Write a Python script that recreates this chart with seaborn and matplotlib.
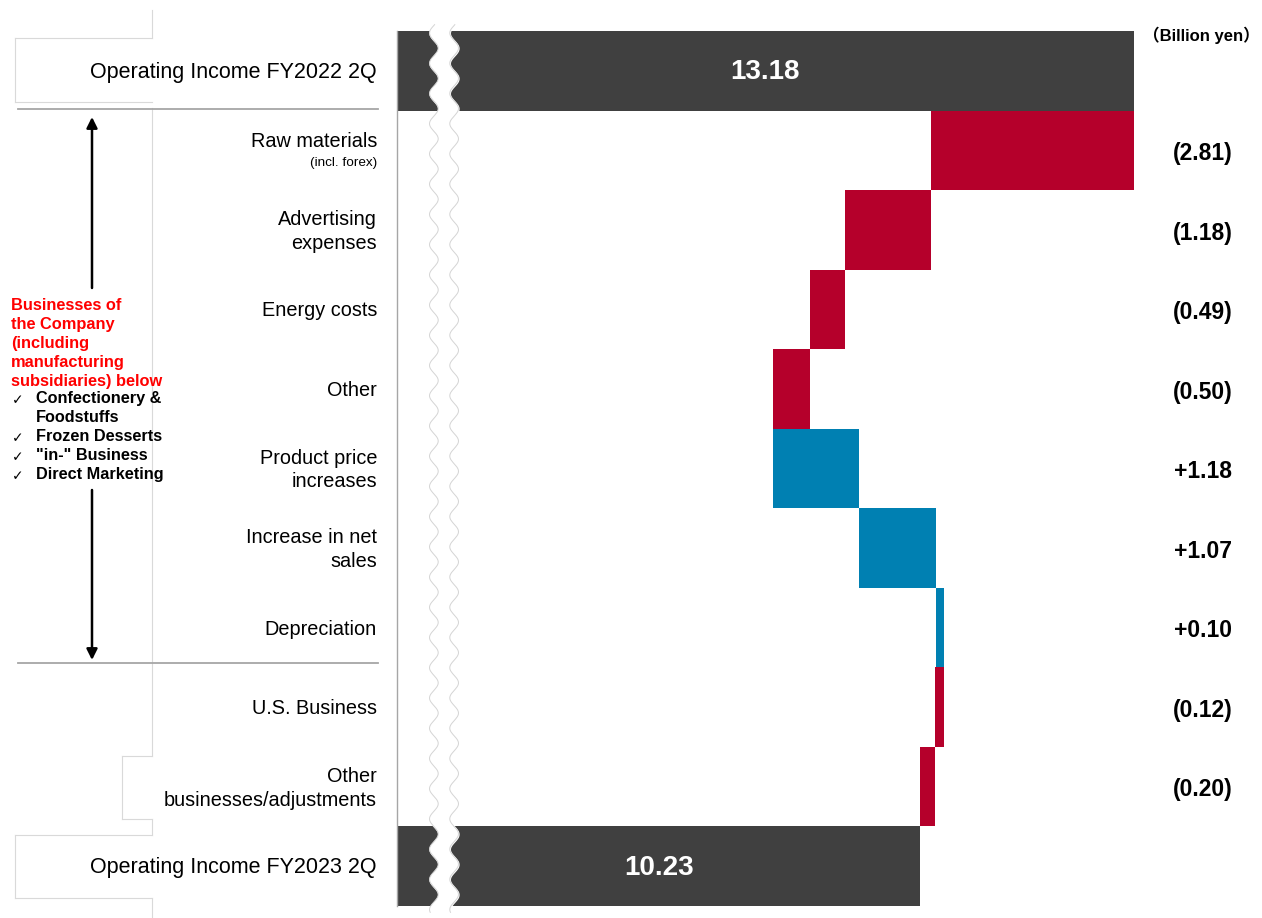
import numpy as np
import pandas as pd
import matplotlib
matplotlib.use("Agg")
import matplotlib.pyplot as plt
from matplotlib.lines import Line2D
import seaborn as sns

# Data (billion yen)
categories = [
    "Operating Income FY2022 2Q", "Raw materials", "Advertising expenses",
    "Energy costs", "Other", "Product price increases", "Increase in net sales",
    "Depreciation", "U.S. Business", "Other businesses/adjustments",
    "Operating Income FY2023 2Q",
]
row_labels = [
    "Operating Income FY2022 2Q", "Raw materials", "Advertising\nexpenses",
    "Energy costs", "Other", "Product price\nincreases", "Increase in net\nsales",
    "Depreciation", "U.S. Business", "Other\nbusinesses/adjustments",
    "Operating Income FY2023 2Q",
]
start_total = 13.18
end_total = 10.23
changes = [-2.81, -1.18, -0.49, -0.50, 1.18, 1.07, 0.10, -0.12, -0.20]
change_labels = ["(2.81)", "(1.18)", "(0.49)", "(0.50)", "+1.18", "+1.07", "+0.10", "(0.12)", "(0.20)"]
group_title = "Businesses of\nthe Company\n(including\nmanufacturing\nsubsidiaries) below"
group_items = ["Confectionery &\nFoodstuffs", "Frozen Desserts", "\"in-\" Business", "Direct Marketing"]

DARK = "#404040"
RED = "#B5002B"
BLUE = "#0080B2"

# waterfall geometry
lefts, rights, colors = [0.0], [start_total], [DARK]
level = start_total
for chg in changes:
    new = level + chg
    lefts.append(min(level, new))
    rights.append(max(level, new))
    colors.append(BLUE if chg > 0 else RED)
    level = new
lefts.append(0.0)
rights.append(end_total)
colors.append(DARK)

df = pd.DataFrame({"category": categories, "left": lefts, "right": rights})
palette = dict(zip(categories, colors))

W, H = 1262, 918
fig = plt.figure(figsize=(W / 100, H / 100), dpi=100)
plt.rcParams["font.family"] = ["Liberation Sans", "DejaVu Sans", "Noto Sans CJK JP"]


def fx(px):
    return px / W


def fy(py):
    return 1 - py / H


ax = fig.add_axes([fx(397), fy(906), 737 / W, 875 / H])

sns.barplot(data=df, x="right", y="category", hue="category", palette=palette,
            order=categories, width=1.0, linewidth=0, saturation=1, legend=False, ax=ax)
# white bars hide the part left of each floating bar
sns.barplot(data=df, x="left", y="category", color="white", order=categories,
            width=1.0, linewidth=0, saturation=1, ax=ax)

ax.set_xlim(3.0, 13.18)
ax.set_ylim(10.5, -0.5)
ax.set_xlabel("")
ax.set_ylabel("")
ax.set_xticks([])
ax.set_yticks([])
for side in ["top", "right", "bottom"]:
    ax.spines[side].set_visible(False)
ax.spines["left"].set_color("#a6a6a6")
ax.spines["left"].set_linewidth(1.0)
ax.set_facecolor("none")

# axis break band
yy = np.linspace(-0.58, 10.58, 800)
wave = 0.06 * np.sin(2 * np.pi * yy / 0.38)
xc, half = 3.0 + 47 / 72.4, 0.14
ax.fill_betweenx(yy, xc - half + wave, xc + half + wave, color="white", zorder=4, clip_on=False)
ax.plot(xc - half + wave, yy, color="#d4d4d4", lw=0.7, zorder=5, clip_on=False)
ax.plot(xc + half + wave, yy, color="#d4d4d4", lw=0.7, zorder=5, clip_on=False)

# bar value texts
ytr = ax.get_yaxis_transform()
ax.text((start_total + 3.0) / 2, 0.02, f"{start_total:.2f}", color="white", fontsize=20,
        fontweight="bold", ha="center", va="center", zorder=6)
ax.text((end_total + 3.0) / 2, 10.02, f"{end_total:.2f}", color="white", fontsize=20,
        fontweight="bold", ha="center", va="center", zorder=6)
for i, lab in enumerate(change_labels, start=1):
    ax.text(1.093, i + 0.04, lab, transform=ytr, fontsize=16.5, fontweight="bold",
            ha="center", va="center", clip_on=False)
ax.text(1.092, -0.45, "（Billion yen）", transform=ytr, fontsize=12, fontweight="bold",
        ha="center", va="center", clip_on=False)

# row labels
lx = -20 / 737
for i, lab in enumerate(row_labels):
    if i == 1:
        ax.text(lx, i - 0.11, lab, transform=ytr, fontsize=14.3, ha="right", va="center")
        ax.text(lx, i + 0.16, "(incl. forex)", transform=ytr, fontsize=9.7, ha="right", va="center")
    elif i in (0, 10):
        ax.text(lx, i + 0.02, lab, transform=ytr, fontsize=15.5, ha="right", va="center")
    else:
        ax.text(lx, i + 0.02, lab, transform=ytr, fontsize=14.3, ha="right", va="center",
                linespacing=1.3)

# left-side decorations in pixel coordinates
def seg(x0, y0, x1, y1, color="#d9d9d9", lw=0.8):
    fig.add_artist(Line2D([fx(x0), fx(x1)], [fy(y0), fy(y1)], color=color, lw=lw))


box_lines = [
    (152, 10, 152, 38), (15, 38, 152, 38), (15, 38, 15, 102), (15, 102, 152, 102),
    (152, 108, 152, 756), (122, 756, 152, 756), (122, 756, 122, 819), (122, 819, 152, 819),
    (152, 819, 152, 835), (15, 835, 152, 835), (15, 835, 15, 898), (15, 898, 152, 898),
    (152, 898, 152, 918),
]
for b in box_lines:
    seg(*b)
seg(18, 108.5, 378, 108.5, color="#a6a6a6", lw=1.3)
seg(18, 663, 378, 663, color="#a6a6a6", lw=1.3)

for tip, tail in [(117, 288), (660, 490)]:
    fig.add_artist(plt.Annotation("", xy=(fx(92), fy(tip)), xytext=(fx(92), fy(tail)),
                                  xycoords="figure fraction",
                                  arrowprops=dict(arrowstyle="-|>", color="black", lw=1.8,
                                                  mutation_scale=16, shrinkA=0, shrinkB=0)))

fig.text(fx(11), fy(298), group_title, color="#FF0000", fontsize=11.8, fontweight="bold",
         ha="left", va="top", linespacing=1.33)
item_y = [400, 438, 457, 476]
for yv, item in zip(item_y, group_items):
    fig.text(fx(12), fy(yv), "✓", fontsize=10, ha="left", va="center",
             family=["DejaVu Sans"])
    fig.text(fx(36), fy(yv - 9), item, fontsize=11.7, fontweight="bold", ha="left",
             va="top", linespacing=1.33)

fig.savefig("out.png", dpi=100, facecolor="white")
